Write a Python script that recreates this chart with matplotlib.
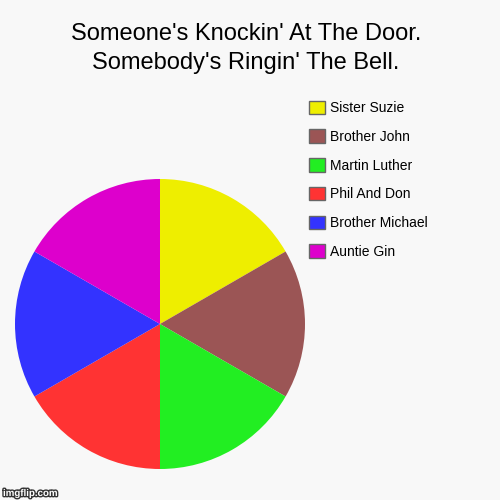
import matplotlib.pyplot as plt
from matplotlib.patches import Patch
import matplotlib.patheffects as pe

plt.rcParams['font.family'] = ['Liberation Sans', 'DejaVu Sans']

# data
labels = ['Sister Suzie', 'Brother John', 'Martin Luther', 'Phil And Don',
          'Brother Michael', 'Auntie Gin']
values = [1, 1, 1, 1, 1, 1]
colors = ['#eeee00', '#9b5555', '#22ee22', '#ff3333', '#3333ff', '#dd00cc']
title = "Someone's Knockin' At The Door.\nSomebody's Ringin' The Bell."

bg = '#f8f8f8'
fig = plt.figure(figsize=(5, 5), dpi=100, facecolor=bg)

# pie axes (centre ~ (160,324) px, radius ~145 px)
ax = fig.add_axes([0.03, 0.062, 0.58, 0.58])
ax.set_facecolor(bg)
ax.pie(values, colors=colors, startangle=90, counterclock=False,
       radius=1, wedgeprops=dict(linewidth=0))
ax.set_xlim(-1, 1)
ax.set_ylim(-1, 1)
ax.set_aspect('equal')
ax.axis('off')

fig.text(0.492, 0.903, title, ha='center', va='center', fontsize=17,
         linespacing=1.37, color='black')

# legend
handles = [Patch(facecolor=c, edgecolor='#666666', linewidth=1) for c in colors]
fig.legend(handles, labels, loc='upper left', bbox_to_anchor=(0.618, 0.799),
           frameon=False, fontsize=10, handlelength=1.15, handleheight=1.12,
           handletextpad=0.36, labelspacing=1.03, borderpad=0, borderaxespad=0)

# watermark
fig.text(0.006, 0.008, 'imgflip.com', fontsize=7, color='white',
         fontweight='bold',
         path_effects=[pe.withStroke(linewidth=2, foreground='#333333')])

fig.savefig('out.png', dpi=100, facecolor=bg)
